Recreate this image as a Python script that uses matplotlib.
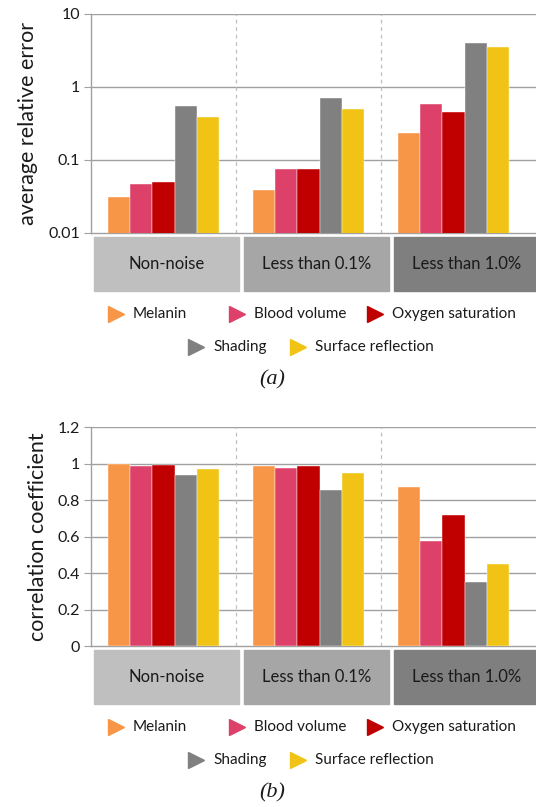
import numpy as np
import matplotlib
matplotlib.use("Agg")
from matplotlib import pyplot as plt
from matplotlib.patches import Rectangle
from matplotlib.lines import Line2D

plt.rcParams['font.family'] = ['Lato', 'DejaVu Sans']

groups = ['Non-noise', 'Less than 0.1%', 'Less than 1.0%']
series = ['Melanin', 'Blood volume', 'Oxygen saturation', 'Shading', 'Surface reflection']
colors = ['#f79646', '#dd4169', '#c00000', '#808080', '#f0c314']
box_colors = ['#bfbfbf', '#a6a6a6', '#7f7f7f']

# average relative error, one row per series, one column per noise level
err = np.array([[0.031, 0.038, 0.233],
                [0.046, 0.074, 0.57],
                [0.049, 0.075, 0.45],
                [0.546, 0.69, 3.94],
                [0.383, 0.50, 3.47]])
# correlation coefficient
corr = np.array([[1.0, 0.99, 0.871],
                 [0.989, 0.976, 0.575],
                 [0.995, 0.985, 0.718],
                 [0.94, 0.856, 0.349],
                 [0.969, 0.949, 0.448]])

W, H = 536, 807
fig = plt.figure(figsize=(W / 100, H / 100), dpi=100)


def rect(x0, y0, x1, y1):
    # pixel box (top-left origin) -> figure fraction
    return [x0 / W, 1 - y1 / H, (x1 - x0) / W, (y1 - y0) / H]


def panel(top, bottom, vals, log, ticks, ticklabels, ylabel, box_top, leg_y, tag, tag_y):
    ax = fig.add_axes(rect(91, top, W, bottom))
    x = np.arange(len(groups))
    bw = 0.153
    for k in range(len(series)):
        ax.bar(x + (k - 2) * bw, vals[k], bw, color=colors[k], zorder=3,
               edgecolor='white', linewidth=0.3)
    if log:
        ax.set_yscale('log')
    ax.set_ylim(ticks[0], ticks[-1])
    ax.set_yticks(ticks)
    ax.set_yticklabels(ticklabels)
    ax.minorticks_off()
    ax.set_xlim(-0.5, -0.5 + (W - 91) / 145)
    ax.set_xticks([])
    for t in ticks[1:]:
        ax.axhline(t, color='#a0a0a0', lw=1.0, zorder=1)
    for s in [0.5, 1.5]:
        ax.axvline(s, color='#bfbfbf', lw=0.9, ls=(0, (3, 3)), zorder=1)
    for side in ['top', 'right']:
        ax.spines[side].set_visible(False)
    for side in ['left', 'bottom']:
        ax.spines[side].set_color('#a0a0a0')
        ax.spines[side].set_linewidth(1.0)
    ax.tick_params(axis='y', length=5, color='#a0a0a0', labelsize=11.5, pad=3,
                   labelcolor='#1a1a1a')
    ax.set_ylabel(ylabel, fontsize=15.5, color='#1a1a1a', labelpad=7)

    # category boxes under the plot
    for i, g in enumerate(groups):
        x0 = 94 + 150 * i
        x1 = min(x0 + 145, W)
        fig.patches.append(Rectangle((x0 / W, 1 - (box_top + 54) / H), (x1 - x0) / W, 54 / H,
                                     transform=fig.transFigure, color=box_colors[i]))
        fig.text((x0 + 72.5) / W, 1 - (box_top + 27) / H, g, ha='center', va='center',
                 fontsize=12, color='#1a1a1a')

    # legend, two centred rows
    pos = [(116, leg_y), (237, leg_y), (375, leg_y), (196, leg_y + 33), (298, leg_y + 33)]
    for k, name in enumerate(series):
        px, py = pos[k]
        fig.add_artist(Line2D([px / W], [1 - py / H], marker='>', markersize=11,
                              color=colors[k], transform=fig.transFigure, lw=0))
        fig.text((px + 17) / W, 1 - py / H, name, ha='left', va='center',
                 fontsize=11, color='#1a1a1a')
    fig.text(272 / W, 1 - tag_y / H, tag, ha='center', va='center', fontsize=16,
             family='Liberation Serif', style='italic', color='#1a1a1a')
    return ax


panel(13.5, 232.7, err, True, [0.01, 0.1, 1, 10], ['0.01', '0.1', '1', '10'],
      'average relative error', 237, 314, '(a)', 380)
panel(427.3, 646, corr, False, [0, 0.2, 0.4, 0.6, 0.8, 1.0, 1.2],
      ['0', '0.2', '0.4', '0.6', '0.8', '1', '1.2'],
      'correlation coefficient', 650, 727, '(b)', 793)

fig.savefig('out.png', dpi=100)
